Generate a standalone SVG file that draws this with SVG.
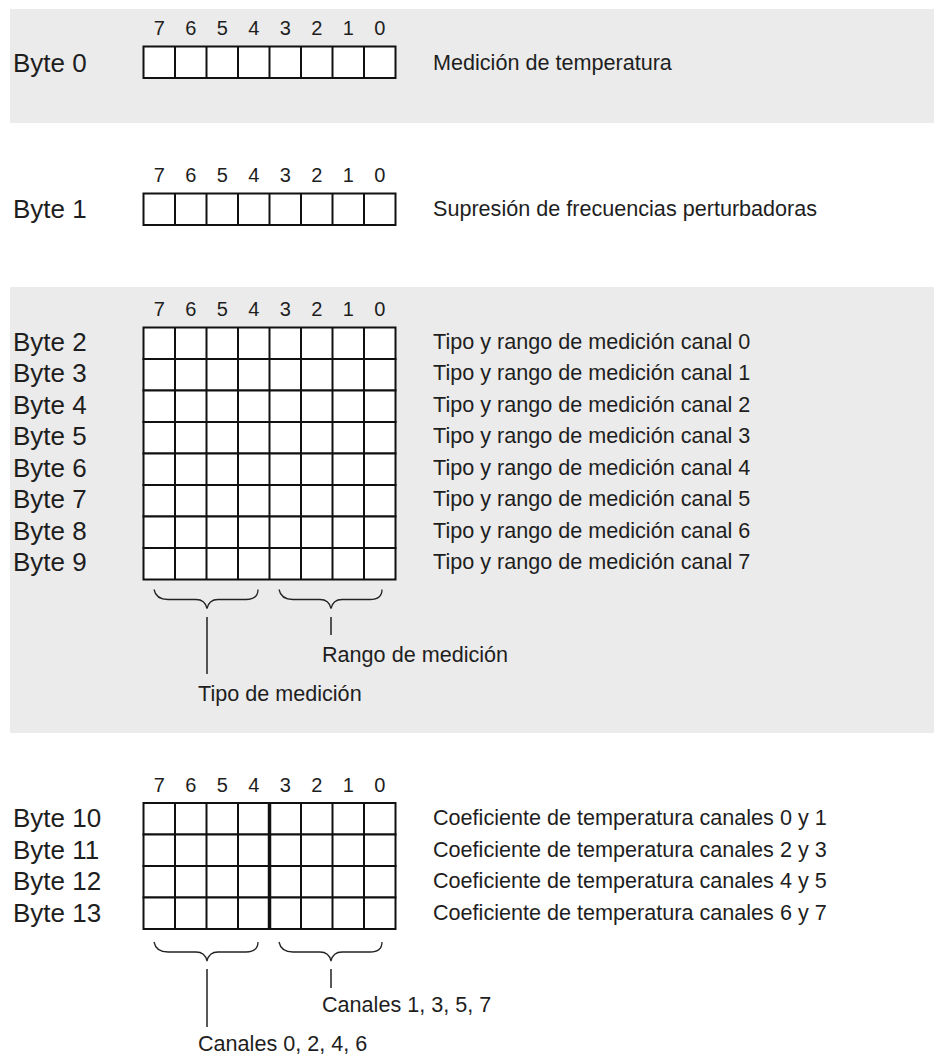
<svg xmlns="http://www.w3.org/2000/svg" width="934" height="1056" viewBox="0 0 934 1056">
<style>
.band{fill:#ebebeb;stroke:none}
.cell{fill:#fff;stroke:#111;stroke-width:2}
.ln{stroke:#111;stroke-width:2;fill:none}
.mid{stroke:#111;stroke-width:3.5;fill:none}
.brace{stroke:#222;stroke-width:1.3;fill:none}
.lead{stroke:#222;stroke-width:1.5;fill:none}
text{font-family:"Liberation Sans",Arial,sans-serif;fill:#1e1e1e}
.byte{font-size:26px}
.bit{font-size:20px;text-anchor:middle}
.desc{font-size:21.6px}
</style>
<defs>
<g id="bits">
<text class="bit" x="159.25" y="0">7</text>
<text class="bit" x="190.75" y="0">6</text>
<text class="bit" x="222.25" y="0">5</text>
<text class="bit" x="253.75" y="0">4</text>
<text class="bit" x="285.25" y="0">3</text>
<text class="bit" x="316.75" y="0">2</text>
<text class="bit" x="348.25" y="0">1</text>
<text class="bit" x="379.75" y="0">0</text>
</g>
<g id="row">
<rect class="cell" x="143.5" y="0" width="252" height="31.5"/>
<path class="ln" d="M175,0v31.5M206.5,0v31.5M238,0v31.5M269.5,0v31.5M301,0v31.5M332.5,0v31.5M364,0v31.5"/>
</g>
<path id="braceL" class="brace" d="M154,0 Q156,10 168,10 L196,10 Q205,10 207,19 Q209,10 218,10 L246,10 Q258,10 258,0"/>
<path id="braceR" class="brace" d="M279,0 Q281,10 293,10 L320,10 Q329,10 331,19 Q333,10 342,10 L370,10 Q382,10 382,0"/>
</defs>

<rect class="band" x="10" y="9" width="924" height="114"/>
<rect class="band" x="10" y="287" width="924" height="446"/>

<g id="byte0">
<use href="#bits" y="35"/>
<text class="byte" x="13" y="71.5">Byte 0</text>
<use href="#row" y="46.5"/>
<text class="desc" x="433" y="69.5">Medición de temperatura</text>
</g>

<g id="byte1">
<use href="#bits" y="182"/>
<text class="byte" x="13" y="218.3">Byte 1</text>
<use href="#row" y="193.5"/>
<text class="desc" x="433" y="216">Supresión de frecuencias perturbadoras</text>
</g>

<g id="bytes2to9">
<use href="#bits" y="316"/>
<text class="byte" x="13" y="350.5">Byte 2</text>
<text class="byte" x="13" y="382">Byte 3</text>
<text class="byte" x="13" y="413.5">Byte 4</text>
<text class="byte" x="13" y="445">Byte 5</text>
<text class="byte" x="13" y="476.5">Byte 6</text>
<text class="byte" x="13" y="508">Byte 7</text>
<text class="byte" x="13" y="539.5">Byte 8</text>
<text class="byte" x="13" y="571">Byte 9</text>
<use href="#row" y="327.5"/>
<use href="#row" y="359"/>
<use href="#row" y="390.5"/>
<use href="#row" y="422"/>
<use href="#row" y="453.5"/>
<use href="#row" y="485"/>
<use href="#row" y="516.5"/>
<use href="#row" y="548"/>
<text class="desc" x="433" y="348.5">Tipo y rango de medición canal 0</text>
<text class="desc" x="433" y="380">Tipo y rango de medición canal 1</text>
<text class="desc" x="433" y="411.5">Tipo y rango de medición canal 2</text>
<text class="desc" x="433" y="443">Tipo y rango de medición canal 3</text>
<text class="desc" x="433" y="474.5">Tipo y rango de medición canal 4</text>
<text class="desc" x="433" y="506">Tipo y rango de medición canal 5</text>
<text class="desc" x="433" y="537.5">Tipo y rango de medición canal 6</text>
<text class="desc" x="433" y="569">Tipo y rango de medición canal 7</text>
</g>

<g id="bytes10to13">
<use href="#bits" y="791.5"/>
<text class="byte" x="13" y="827">Byte 10</text>
<text class="byte" x="13" y="858.5">Byte 11</text>
<text class="byte" x="13" y="890">Byte 12</text>
<text class="byte" x="13" y="921.5">Byte 13</text>
<use href="#row" y="803"/>
<use href="#row" y="834.5"/>
<use href="#row" y="866"/>
<use href="#row" y="897.5"/>
<path class="mid" d="M269.5,803V929"/>
<text class="desc" x="433" y="825">Coeficiente de temperatura canales 0 y 1</text>
<text class="desc" x="433" y="856.5">Coeficiente de temperatura canales 2 y 3</text>
<text class="desc" x="433" y="888">Coeficiente de temperatura canales 4 y 5</text>
<text class="desc" x="433" y="919.5">Coeficiente de temperatura canales 6 y 7</text>
</g>

<g id="connectors">
<use href="#braceL" y="589.5"/>
<use href="#braceR" y="589.5"/>
<path class="lead" d="M207,617V674M331,617V635"/>
<use href="#braceL" y="942"/>
<use href="#braceR" y="942"/>
<path class="lead" d="M207,969V1027M331,969V988"/>
</g>

<g id="labels">
<text class="desc" x="322" y="662">Rango de medición</text>
<text class="desc" x="198" y="701">Tipo de medición</text>
<text class="desc" x="322" y="1012">Canales 1, 3, 5, 7</text>
<text class="desc" x="198" y="1051">Canales 0, 2, 4, 6</text>
</g>
</svg>
